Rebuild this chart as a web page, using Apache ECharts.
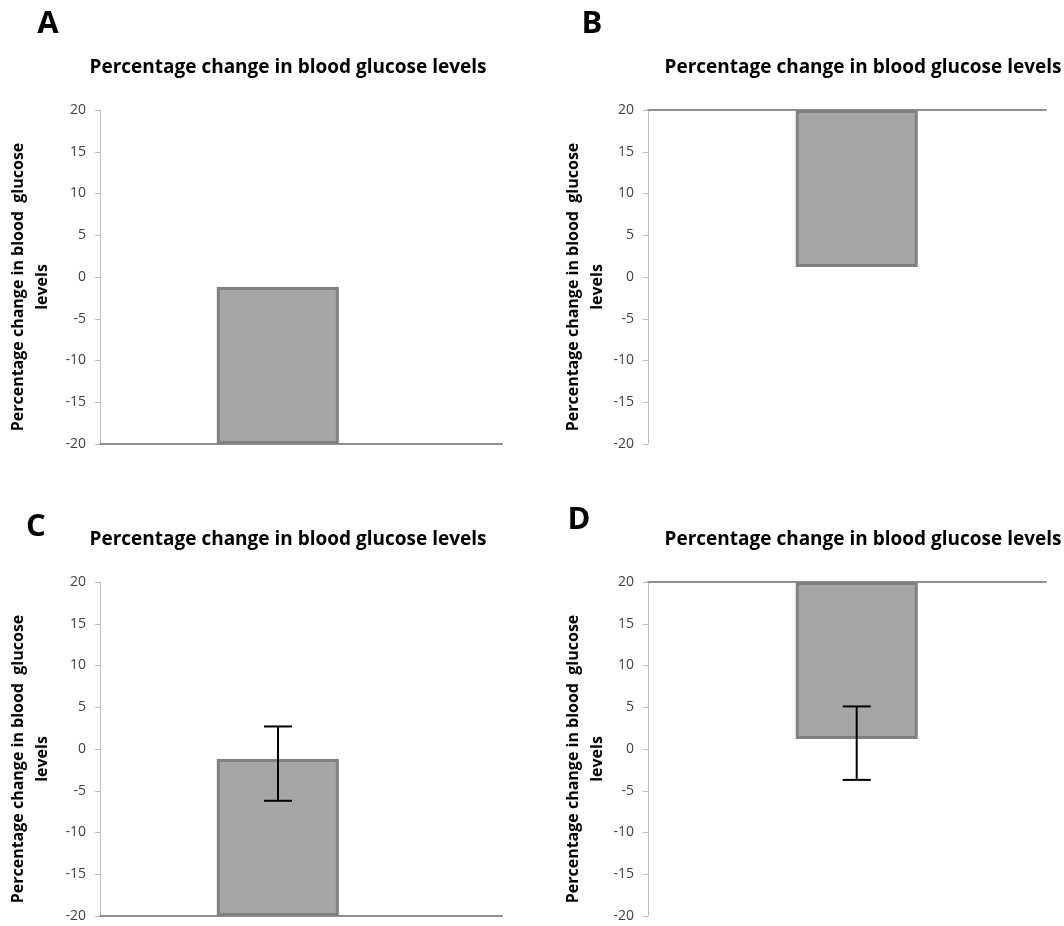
<!DOCTYPE html>
<html>
<head>
<meta charset="utf-8">
<script src="https://cdn.jsdelivr.net/npm/echarts@6/dist/echarts.min.js"></script>
<style>
html,body{margin:0;padding:0;background:#fff;}
#main{width:1064px;height:926px;}
</style>
</head>
<body>
<div id="main"></div>
<script>
// ---- data ----
const categories = [''];
const panelLetters = ['A', 'B', 'C', 'D'];
const barValues = [-1.2, 1.2, -1.2, 1.2];          // top/bottom of each bar
const axisCross = [-20, 20, -20, 20];               // where the category axis crosses the value axis
const errLow = [null, null, -6.2, -3.7];
const errHigh = [null, null, 2.7, 5.1];
const yMin = -20, yMax = 20, yInterval = 5;
const chartTitle = 'Percentage change in blood glucose levels';
const yAxisName = 'Percentage change in blood  glucose\nlevels';

// ---- layout (not data) ----
const grids = [
  {left: 100, top: 110, width: 402, height: 334},
  {left: 648, top: 110, width: 398, height: 334},
  {left: 100, top: 582, width: 402, height: 334},
  {left: 648, top: 582, width: 398, height: 334}
].map(g => Object.assign(g, {containLabel: false, outerBoundsMode: 'none'}));
const barW = 122;
const barGaps = ['-62%', '-84%', '-62%', '-84%'];
const barOffsets = [-23, 9.7, -23, 9.7];
const spacerFirst = [false, true, false, true];
const titlePos = [[283, 53], [858, 53], [283, 525], [858, 525]];
const letterPos = [[43, 4], [587, 4], [31, 507], [574, 500]];
const nameGaps = [46, 39, 46, 39];

const FONT = '"Open Sans", "Noto Sans", sans-serif';

const xAxes = [], yAxes = [], series = [], titles = [];
for (let i = 0; i < 4; i++) {
  const top = axisCross[i] > 0;
  xAxes.push({
    gridIndex: i, type: 'category', data: categories,
    position: top ? 'top' : 'bottom',
    axisLine: {onZero: false, lineStyle: {color: '#8f8f8f', width: 2}},
    axisTick: {show: false}, axisLabel: {show: false}, splitLine: {show: false}
  });
  yAxes.push({
    gridIndex: i, type: 'value', min: yMin, max: yMax, interval: yInterval,
    axisLine: {show: true, onZero: false, lineStyle: {color: '#bdbdbd', width: 1}},
    axisTick: {show: true, length: 5, lineStyle: {color: '#bdbdbd'}},
    axisLabel: {color: '#404040', fontSize: 14, margin: 14, fontFamily: FONT},
    splitLine: {show: false},
    name: yAxisName, nameLocation: 'middle', nameRotate: 90, nameGap: nameGaps[i],
    nameTextStyle: {fontFamily: FONT, fontWeight: 'bold', fontSize: 16, color: '#000', lineHeight: 24,
                    padding: [0, 20, 0, 0]}
  });
  const spacer = {
    type: 'bar', xAxisIndex: i, yAxisIndex: i, data: ['-'], barWidth: barW,
    barGap: barGaps[i], silent: true, itemStyle: {color: 'transparent'}
  };
  const base = {
    type: 'bar', xAxisIndex: i, yAxisIndex: i, stack: 'p' + i, stackStrategy: 'all',
    data: [axisCross[i]], barWidth: barW, barGap: barGaps[i], silent: true,
    itemStyle: {color: 'rgba(0,0,0,0)'}
  };
  const vis = {
    type: 'bar', xAxisIndex: i, yAxisIndex: i, stack: 'p' + i, stackStrategy: 'all',
    data: [barValues[i] - axisCross[i]], barWidth: barW, barGap: barGaps[i],
    itemStyle: {color: '#a6a6a6', borderColor: '#808080', borderWidth: 3}
  };
  if (spacerFirst[i]) series.push(spacer, base, vis); else series.push(base, vis, spacer);
  if (errLow[i] !== null) {
    const off = barOffsets[i];
    series.push({
      type: 'custom', xAxisIndex: i, yAxisIndex: i,
      data: [[0, errLow[i], errHigh[i]]],
      encode: {x: 0, y: [1, 2]},
      z: 10,
      renderItem: function (params, api) {
        const pl = api.coord([api.value(0), api.value(1)]);
        const ph = api.coord([api.value(0), api.value(2)]);
        const x = pl[0] + off;
        const cap = 14;
        const st = {stroke: '#000', lineWidth: 2};
        return {type: 'group', children: [
          {type: 'line', shape: {x1: x, y1: pl[1], x2: x, y2: ph[1]}, style: st},
          {type: 'line', shape: {x1: x - cap, y1: pl[1], x2: x + cap, y2: pl[1]}, style: st},
          {type: 'line', shape: {x1: x - cap, y1: ph[1], x2: x + cap, y2: ph[1]}, style: st}
        ]};
      }
    });
  }
  titles.push({
    text: chartTitle, left: titlePos[i][0], top: titlePos[i][1], textAlign: 'center',
    textStyle: {fontFamily: FONT, fontWeight: 'bold', fontSize: 19, color: '#000'}
  });
  titles.push({
    text: panelLetters[i], left: letterPos[i][0], top: letterPos[i][1], textAlign: 'center',
    textStyle: {fontFamily: FONT, fontWeight: 'bold', fontSize: 31, color: '#000'}
  });
}

const chart = echarts.init(document.getElementById('main'));
chart.setOption({
  animation: false,
  backgroundColor: '#fff',
  title: titles,
  grid: grids,
  xAxis: xAxes,
  yAxis: yAxes,
  series: series
});
</script>
</body>
</html>
